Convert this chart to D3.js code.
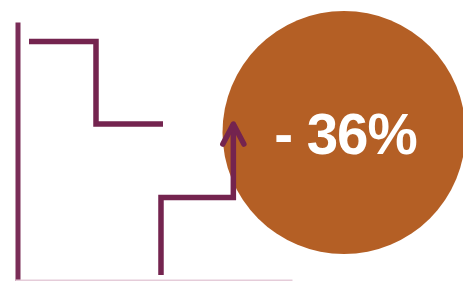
<!DOCTYPE html>
<html lang="en">
<head>
<meta charset="UTF-8" />
<style>
  body { margin: 0; background: #fff; }
</style>
</head>
<body>
<svg width="463" height="281"></svg>
<script src="https://cdnjs.cloudflare.com/ajax/libs/d3/7.8.5/d3.min.js"></script>
<script>
    // step values before / after
    var beforeX = [0, 1, 2];
    var beforeV = [92.5, 60.6, 60.6];
    var afterX = [1.97, 1.97, 3.05, 3.05];
    var afterV = [2.3, 32.2, 32.2, 60.6];
    var change = [-36];
    var changeLabel = ["- 36%"];

    var svg = d3.select("svg"),
        width = +svg.attr("width"),
        height = +svg.attr("height");

    var purple = "#74244f",
        orange = "#b45f25";

    var x = d3.scaleLinear().domain([0, 4]).range([29, 297]);
    var y = d3.scaleLinear().domain([0, 100]).range([281, 22]);

    // badge
    svg.append("circle")
        .attr("cx", 344)
        .attr("cy", 132.5)
        .attr("r", 121.5)
        .attr("fill", orange);

    // axes
    var yAxis = svg.append("g")
        .attr("transform", "translate(17.5,0)")
        .call(d3.axisLeft(y).ticks(0).tickSize(0));
    yAxis.select(".domain").attr("stroke", "#7a2d57").attr("stroke-width", 5);

    var xAxis = svg.append("g")
        .attr("transform", "translate(0,280)")
        .call(d3.axisBottom(d3.scaleLinear().range([15, 292])).ticks(0).tickSize(0));
    xAxis.select(".domain").attr("stroke", "#e5ccd9").attr("stroke-width", 2);

    svg.append("defs").append("marker")
        .attr("id", "arrow")
        .attr("markerUnits", "userSpaceOnUse")
        .attr("viewBox", "-26 -16 30 32")
        .attr("markerWidth", 30)
        .attr("markerHeight", 32)
        .attr("refX", 0)
        .attr("refY", 0)
        .attr("orient", "auto")
        .append("path")
        .attr("d", "M-20,-10.5L0,0L-20,10.5")
        .attr("fill", "none")
        .attr("stroke", purple)
        .attr("stroke-width", 5.5)
        .attr("stroke-linecap", "round")
        .attr("stroke-linejoin", "round");

    var line = d3.line()
        .x(function (d) { return x(d[0]); })
        .y(function (d) { return y(d[1]); });

    svg.append("path")
        .datum(d3.zip(beforeX, beforeV))
        .attr("d", line.curve(d3.curveStepAfter))
        .attr("fill", "none")
        .attr("stroke", purple)
        .attr("stroke-width", 5.5);

    svg.append("path")
        .datum(d3.zip(afterX, afterV))
        .attr("d", line.curve(d3.curveLinear))
        .attr("fill", "none")
        .attr("stroke", purple)
        .attr("stroke-width", 5.5)
        .attr("marker-end", "url(#arrow)");

    svg.selectAll("text.label")
        .data(change)
        .enter().append("text")
        .attr("class", "label")
        .attr("x", 345.5)
        .attr("y", 153.5)
        .attr("text-anchor", "middle")
        .attr("fill", "#fff")
        .style("font-family", "Liberation Sans, Arial, sans-serif")
        .style("font-weight", "bold")
        .style("font-size", "56.5px")
        .style("letter-spacing", "-1px")
        .text(function (d, i) { return changeLabel[i]; });
</script>
</body>
</html>
